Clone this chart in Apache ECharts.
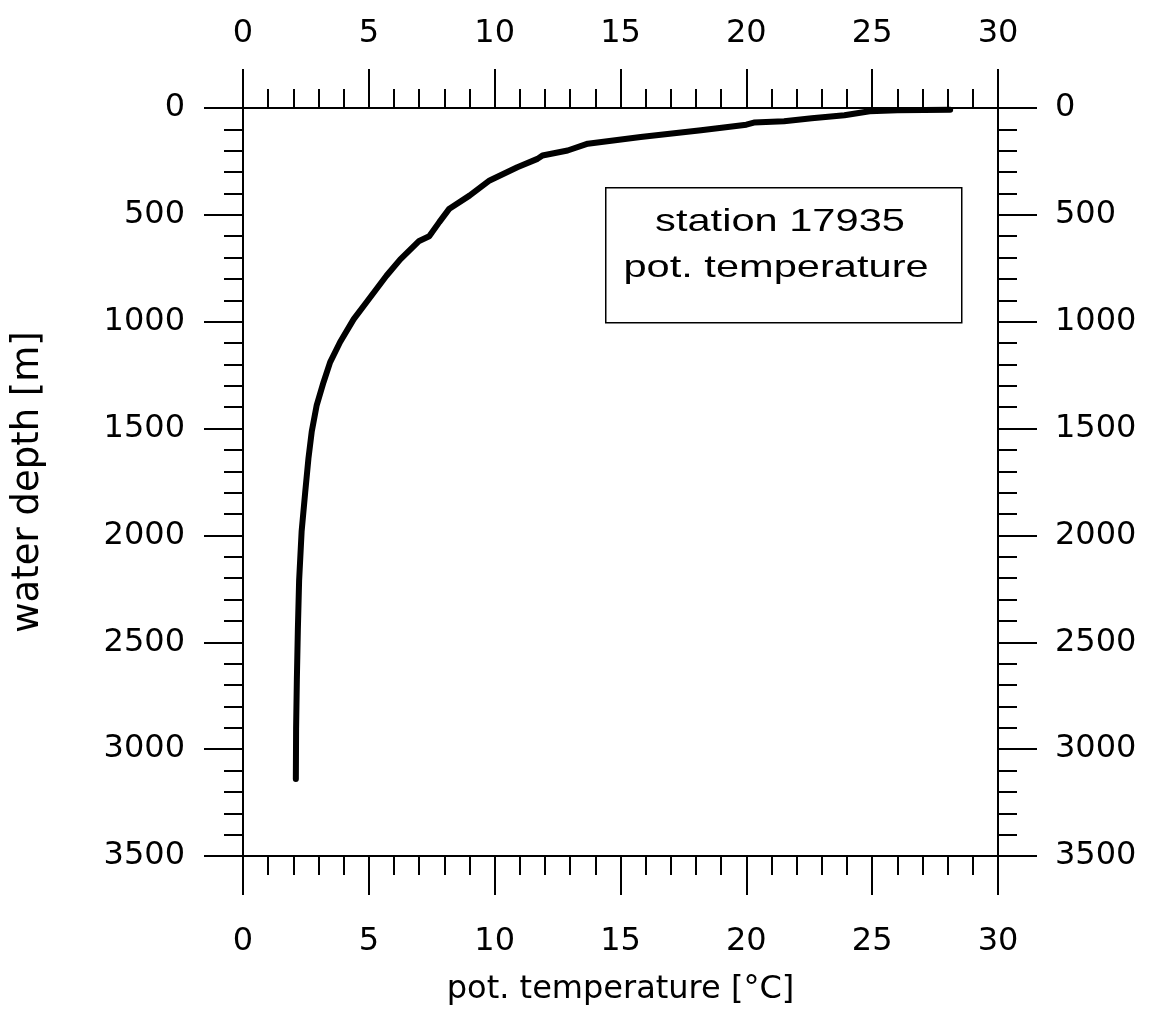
<!DOCTYPE html>
<html><head><meta charset="utf-8">
<script src="https://cdn.jsdelivr.net/npm/echarts@6/dist/echarts.min.js"></script>
<style>html,body{margin:0;padding:0;background:#fff}#c{width:1153px;height:1011px}</style>
</head><body><div id="c"></div>
<script>
// potential temperature [°C] vs water depth [m], station 17935
const temperature = [28.1, 26.0, 24.9, 23.9, 22.6, 21.5, 20.3, 20.0, 18.2, 15.8, 13.7, 12.9, 11.9, 11.7, 10.9, 9.8, 9.0, 8.2, 7.8, 7.4, 7.0, 6.25, 5.7, 4.9, 4.4, 3.86, 3.46, 3.2, 2.93, 2.73, 2.6, 2.47, 2.33, 2.23, 2.18, 2.14, 2.11, 2.1];
const depth =       [8,    10,   15,   34,   48,   62,   68,   78,   104,  136,  167,  199,  222,  238,  277,  339, 410, 471, 534, 600, 622, 708,  785, 910, 988, 1095, 1190, 1283, 1390, 1515, 1640, 1800, 1980, 2210, 2440, 2675, 2905, 3140];
const xTicks = [0, 5, 10, 15, 20, 25, 30];
const yTicks = [0, 500, 1000, 1500, 2000, 2500, 3000, 3500];
const boxLines = ['station 17935', 'pot. temperature'];
const xName = 'pot. temperature [°C]';
const yName = 'water depth [m]';

const chart = echarts.init(document.getElementById('c'), null, {renderer: 'canvas'});
const black = '#000';
const labelFont = {color: black, fontSize: 32, fontFamily: 'DejaVu Sans', formatter: v => String(v)};
function xAx(pos, margin, extra) {
  return Object.assign({
    type: 'value', position: pos, min: xTicks[0], max: xTicks[xTicks.length - 1],
    interval: xTicks[1] - xTicks[0],
    axisLine: {onZero: false, lineStyle: {color: black, width: 2}},
    axisTick: {length: 39, lineStyle: {color: black, width: 2}},
    minorTick: {show: true, splitNumber: 5, length: 19, lineStyle: {color: black, width: 2}},
    splitLine: {show: false},
    axisLabel: Object.assign({margin: margin}, labelFont)
  }, extra || {});
}
function yAx(pos, margin, extra) {
  return Object.assign({
    type: 'value', position: pos, inverse: true, min: yTicks[0], max: yTicks[yTicks.length - 1],
    interval: yTicks[1] - yTicks[0],
    axisLine: {onZero: false, lineStyle: {color: black, width: 2}},
    axisTick: {length: 39, lineStyle: {color: black, width: 2}},
    minorTick: {show: true, splitNumber: 5, length: 19, lineStyle: {color: black, width: 2}},
    splitLine: {show: false},
    axisLabel: Object.assign({margin: margin}, labelFont)
  }, extra || {});
}

chart.setOption({
  animation: false,
  backgroundColor: '#fff',
  grid: {left: 243, right: 155, top: 108, bottom: 150, containLabel: false},
  xAxis: [
    xAx('bottom', 70, {name: xName, nameLocation: 'middle', nameGap: 118,
      nameTextStyle: {color: black, fontSize: 32, fontFamily: 'DejaVu Sans'}}),
    xAx('top', 58)
  ],
  yAxis: [
    yAx('left', 58, {name: yName, nameLocation: 'middle', nameGap: 196,
      nameTextStyle: {color: black, fontSize: 37, fontFamily: 'DejaVu Sans'}}),
    yAx('right', 57)
  ],
  series: [{
    type: 'line', xAxisIndex: 0, yAxisIndex: 0,
    data: temperature.map((t, i) => [t, depth[i]]),
    symbol: 'none', smooth: false,
    lineStyle: {color: black, width: 6, join: 'round', cap: 'round'}
  }],
  graphic: [
    {type: 'rect', left: 605, top: 187, z: 100,
      shape: {width: 356, height: 135},
      style: {fill: '#fff', stroke: black, lineWidth: 1.5}},
    {type: 'text', x: 780, y: 222, z: 101, scaleX: 1.3,
      style: {text: boxLines[0], fontSize: 32, fontFamily: 'Liberation Sans', fill: black, align: 'center', verticalAlign: 'middle'}},
    {type: 'text', x: 776, y: 268, z: 101, scaleX: 1.3,
      style: {text: boxLines[1], fontSize: 32, fontFamily: 'Liberation Sans', fill: black, align: 'center', verticalAlign: 'middle'}}
  ]
});
</script>
</body></html>
